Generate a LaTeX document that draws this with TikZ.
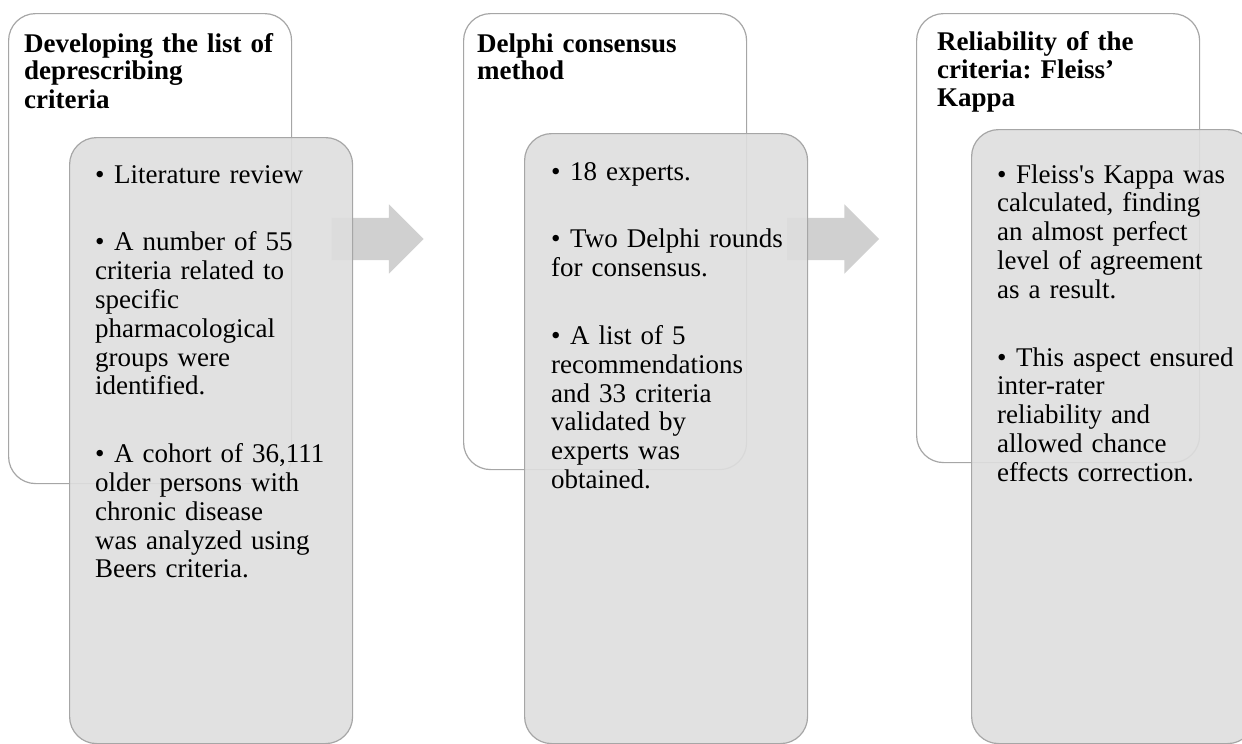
\documentclass[tikz,border=0pt]{standalone}
\usepackage{fontspec}
\setmainfont{Liberation Serif}
\usepackage{xcolor}
\definecolor{colorb}{RGB}{166,166,166}
\definecolor{colorp}{RGB}{222,222,222}
\definecolor{colorr}{RGB}{208,208,208}
\usepackage{tikz}
\usetikzlibrary{shapes.arrows}
\tikzstyle{frame} = [draw=colorb, line width=1.2pt, fill=white, rounded corners=27pt, anchor=north west, minimum width=283pt, inner sep=0pt]
\tikzstyle{panel} = [draw=colorb, line width=1.2pt, fill=colorp, fill opacity=0.9, rounded corners=27pt, anchor=north west, minimum width=283pt, inner sep=0pt]
\tikzstyle{flow} = [single arrow, fill=colorr, minimum height=92pt, inner xsep=0pt, inner ysep=21pt, single arrow head extend=13.5pt, single arrow tip angle=90]
\tikzstyle{head} = [anchor=base west, inner sep=0pt, text width=272pt, align=left, font=\bfseries\fontsize{27}{28}\selectfont]
\tikzstyle{items} = [anchor=base west, inner sep=0pt, text width=262pt, align=left, font=\fontsize{27}{28.8}\selectfont]
\newcommand{\bitem}[1]{\noindent\hangindent=19pt\hangafter=1\makebox[19pt][l]{\textbullet}#1\par}
\newcommand{\bgap}{\vspace{39pt}}
\frenchspacing

\begin{document}
\begin{tikzpicture}[x=1pt, y=-1pt]
    \useasboundingbox (0,0) rectangle (1242,744);
    \clip (0,0) rectangle (1242,744);

    % outer frames
    \node[frame, minimum height=470pt] (f1) at (8,13) {};
    \node[frame, minimum height=456pt] (f2) at (463,13) {};
    \node[frame, minimum height=449pt] (f3) at (916,13) {};

    % arrows between the steps
    \node[flow] (a1) at (367,239) {};
    \node[flow] (a2) at (822.5,239) {};

    % inner panels
    \node[panel, minimum height=606pt] (g1) at (69,137) {};
    \node[panel, minimum height=610pt] (g2) at (524,133) {};
    \node[panel, minimum height=614pt] (g3) at (971,129) {};

    \node[head] (h1) at (24,52) {Developing the list of\\deprescribing\\criteria};
    \node[head] (h2) at (477,52) {Delphi consensus\\method};
    \node[head] (h3) at (937,50) {Reliability of the\\criteria: Fleiss'\\Kappa};

    \node[items] (t1) at (95,183) {%
      \bitem{Literature review}\bgap
      \bitem{A number of 55\\criteria related to\\specific\\pharmacological\\groups were\\identified.}\bgap
      \bitem{A cohort of 36,111\\older persons with\\chronic disease\\was analyzed using\\Beers criteria.}};
    \node[items] (t2) at (551,180) {%
      \bitem{18 experts.}\bgap
      \bitem{Two Delphi rounds\\for consensus.}\bgap
      \bitem{A list of 5\\recommendations\\and 33 criteria\\validated by\\experts was\\obtained.}};
    \node[items] (t3) at (997,183) {%
      \bitem{Fleiss\textquotesingle s Kappa was\\calculated, finding\\an almost perfect\\level of agreement\\as a result.}\bgap
      \bitem{This aspect ensured\\inter-rater\\reliability and\\allowed chance\\effects correction.}};
\end{tikzpicture}
\end{document}
